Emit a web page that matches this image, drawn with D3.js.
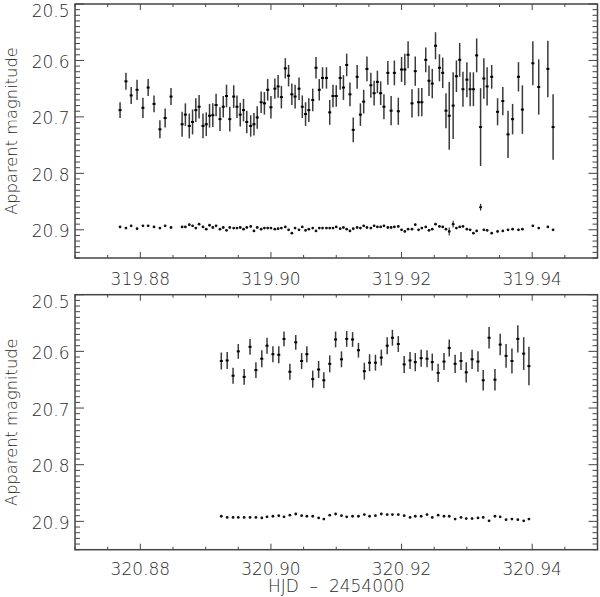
<!DOCTYPE html>
<html>
<head>
<meta charset="utf-8">
<script src="https://cdn.jsdelivr.net/npm/d3@7"></script>
<style>
  html, body { margin: 0; padding: 0; background: #fff; }
  svg { display: block; }
  text { font-family: "DejaVu Sans", sans-serif; font-size: 17px; font-weight: 200; fill: #2a2a2a; }
</style>
</head>
<body>
<svg id="chart" width="600" height="597"></svg>
<script>
// ---------- DATA ----------
const topTime = [
  319.8769, 319.8778, 319.8786, 319.8795, 319.8804, 319.8812, 319.8821, 319.8830, 319.8838, 319.8847,
  319.8864, 319.8869, 319.8875, 319.8880, 319.8885, 319.8890, 319.8896, 319.8901, 319.8906, 319.8911,
  319.8916, 319.8922, 319.8927, 319.8932, 319.8937, 319.8943, 319.8948, 319.8953, 319.8958, 319.8963,
  319.8969, 319.8974, 319.8979, 319.8985, 319.8990, 319.8995, 319.9000, 319.9006, 319.9011, 319.9016,
  319.9022, 319.9027, 319.9032, 319.9037, 319.9043, 319.9048, 319.9053, 319.9058, 319.9064, 319.9069,
  319.9074, 319.9079, 319.9085, 319.9090, 319.9095, 319.9100, 319.9106, 319.9111, 319.9116, 319.9121,
  319.9126, 319.9132, 319.9137, 319.9142, 319.9147, 319.9153, 319.9158, 319.9163, 319.9168, 319.9173,
  319.9179, 319.9184, 319.9189, 319.9195, 319.9200, 319.9205, 319.9210, 319.9216, 319.9221, 319.9226,
  319.9231, 319.9237, 319.9242, 319.9247, 319.9252, 319.9258, 319.9263, 319.9268, 319.9273, 319.9279,
  319.9284, 319.9289, 319.9294, 319.9300, 319.9305, 319.9310, 319.9315, 319.9321, 319.9326, 319.9331,
  319.9338, 319.9347, 319.9355, 319.9363, 319.9370, 319.9379, 319.9385, 319.9401, 319.9410, 319.9424,
  319.9432
];
const topMag = [
  20.688, 20.637, 20.662, 20.652, 20.684, 20.648, 20.677, 20.722, 20.702, 20.664,
  20.713, 20.696, 20.716, 20.709, 20.688, 20.682, 20.716, 20.713, 20.698, 20.697,
  20.679, 20.704, 20.682, 20.663, 20.704, 20.664, 20.682, 20.696, 20.688, 20.709,
  20.716, 20.713, 20.701, 20.674, 20.676, 20.652, 20.683, 20.650, 20.646, 20.665,
  20.614, 20.627, 20.660, 20.664, 20.650, 20.682, 20.695, 20.688, 20.670, 20.613,
  20.652, 20.631, 20.631, 20.692, 20.663, 20.663, 20.631, 20.648, 20.608, 20.660,
  20.723, 20.629, 20.696, 20.673, 20.615, 20.644, 20.658, 20.638, 20.658, 20.682,
  20.622, 20.689, 20.622, 20.690, 20.616, 20.616, 20.590, 20.676, 20.619, 20.674,
  20.674, 20.599, 20.636, 20.641, 20.574, 20.613, 20.622, 20.689, 20.698, 20.680,
  20.628, 20.599, 20.651, 20.634, 20.651, 20.651, 20.591, 20.718, 20.632, 20.646,
  20.629, 20.691, 20.672, 20.731, 20.704, 20.629, 20.687, 20.605, 20.647, 20.615,
  20.718
];
const topErr = [
  0.014, 0.015, 0.015, 0.018, 0.018, 0.015, 0.015, 0.016, 0.017, 0.015,
  0.022, 0.020, 0.022, 0.022, 0.021, 0.021, 0.022, 0.021, 0.021, 0.021,
  0.020, 0.021, 0.019, 0.020, 0.022, 0.020, 0.020, 0.021, 0.020, 0.020,
  0.019, 0.020, 0.020, 0.019, 0.020, 0.019, 0.020, 0.018, 0.020, 0.020,
  0.018, 0.019, 0.019, 0.021, 0.020, 0.020, 0.021, 0.021, 0.020, 0.019,
  0.019, 0.019, 0.019, 0.022, 0.020, 0.019, 0.021, 0.022, 0.020, 0.021,
  0.022, 0.021, 0.020, 0.021, 0.022, 0.022, 0.022, 0.020, 0.021, 0.022,
  0.021, 0.026, 0.022, 0.024, 0.022, 0.028, 0.024, 0.025, 0.026, 0.025,
  0.025, 0.022, 0.027, 0.026, 0.024, 0.024, 0.027, 0.031, 0.060, 0.059,
  0.028, 0.030, 0.031, 0.031, 0.030, 0.030, 0.030, 0.069, 0.036, 0.034,
  0.021, 0.024, 0.025, 0.042, 0.027, 0.026, 0.043, 0.039, 0.049, 0.050,
  0.058
];
const topCompMag = [
  20.895, 20.897, 20.893, 20.898, 20.893, 20.893, 20.895, 20.897, 20.893, 20.896,
  20.895, 20.895, 20.891, 20.893, 20.897, 20.890, 20.895, 20.899, 20.892, 20.896,
  20.893, 20.899, 20.896, 20.901, 20.896, 20.897, 20.897, 20.896, 20.899, 20.896,
  20.894, 20.902, 20.896, 20.899, 20.897, 20.897, 20.897, 20.899, 20.898, 20.897,
  20.895, 20.900, 20.906, 20.897, 20.900, 20.895, 20.901, 20.899, 20.897, 20.902,
  20.897, 20.897, 20.897, 20.897, 20.897, 20.895, 20.898, 20.896, 20.899, 20.902,
  20.898, 20.896, 20.897, 20.893, 20.896, 20.897, 20.893, 20.895, 20.895, 20.893,
  20.896, 20.896, 20.895, 20.894, 20.900, 20.903, 20.899, 20.899, 20.891, 20.900,
  20.897, 20.895, 20.901, 20.899, 20.890, 20.894, 20.895, 20.899, 20.903, 20.890,
  20.897, 20.895, 20.894, 20.899, 20.900, 20.906, 20.902, 20.860, 20.900, 20.901,
  20.906, 20.903, 20.902, 20.900, 20.899, 20.900, 20.899, 20.893, 20.897, 20.895,
  20.900
];
const topCompErr = topCompMag.map((m, i) => ({88: 0.007, 89: 0.006, 97: 0.006}[i] || 0.0015));

const botTime = [
  320.8924, 320.8933, 320.8942, 320.8950, 320.8959, 320.8968, 320.8977, 320.8986, 320.8994, 320.9003,
  320.9012, 320.9020, 320.9029, 320.9038, 320.9047, 320.9055, 320.9064, 320.9073, 320.9081, 320.9090,
  320.9099, 320.9108, 320.9116, 320.9125, 320.9134, 320.9143, 320.9151, 320.9160, 320.9169, 320.9178,
  320.9186, 320.9195, 320.9204, 320.9213, 320.9221, 320.9230, 320.9239, 320.9247, 320.9256, 320.9265,
  320.9273, 320.9282, 320.9291, 320.9299, 320.9308, 320.9317, 320.9325, 320.9334, 320.9343, 320.9351,
  320.9360, 320.9369, 320.9378, 320.9387, 320.9395
];
const botMag = [
  20.617, 20.616, 20.643, 20.600, 20.645, 20.592, 20.633, 20.613, 20.590, 20.605,
  20.606, 20.578, 20.636, 20.584, 20.617, 20.605, 20.649, 20.632, 20.651, 20.622,
  20.579, 20.614, 20.578, 20.579, 20.598, 20.635, 20.620, 20.620, 20.611, 20.590,
  20.576, 20.587, 20.623, 20.616, 20.619, 20.612, 20.613, 20.619, 20.638, 20.618,
  20.594, 20.622, 20.617, 20.637, 20.614, 20.618, 20.651, 20.576, 20.650, 20.588,
  20.608, 20.617, 20.578, 20.604, 20.626
];
const botErr = [
  0.015, 0.015, 0.014, 0.013, 0.014, 0.014, 0.014, 0.015, 0.014, 0.014,
  0.015, 0.013, 0.014, 0.013, 0.014, 0.014, 0.015, 0.015, 0.014, 0.015,
  0.014, 0.014, 0.014, 0.013, 0.013, 0.015, 0.015, 0.014, 0.014, 0.015,
  0.014, 0.014, 0.015, 0.015, 0.016, 0.015, 0.015, 0.015, 0.016, 0.015,
  0.015, 0.016, 0.016, 0.018, 0.017, 0.018, 0.018, 0.019, 0.019, 0.019,
  0.021, 0.022, 0.024, 0.029, 0.034
];
const botCompMag = [
  20.891, 20.893, 20.893, 20.893, 20.893, 20.893, 20.893, 20.894, 20.892, 20.891,
  20.890, 20.892, 20.889, 20.887, 20.890, 20.891, 20.891, 20.894, 20.896, 20.889,
  20.887, 20.890, 20.892, 20.891, 20.891, 20.888, 20.891, 20.890, 20.887, 20.888,
  20.888, 20.888, 20.890, 20.893, 20.891, 20.891, 20.888, 20.893, 20.889, 20.891,
  20.891, 20.896, 20.893, 20.895, 20.895, 20.894, 20.893, 20.899, 20.891, 20.892,
  20.897, 20.896, 20.897, 20.899, 20.896
];
const botCompErr = botCompMag.map(() => 0.0012);

const yTickLabels = ["20.5", "20.6", "20.7", "20.8", "20.9"];
const topXTickLabels = ["319.88", "319.90", "319.92", "319.94"];
const botXTickLabels = ["320.88", "320.90", "320.92", "320.94"];
const magDomain = [20.5, 20.95];
const yTitle = "Apparent magnitude";
const xTitle = "HJD  \u2013  2454000";

// ---------- DRAW ----------
const svg = d3.select("#chart");
const left = 75, right = 597.5;
const axisColor = "#444";

function panel(top, bottom, xDomain, xLabels, labelGap, time, mag, err, compMag, compErr, showXTitle) {
  const g = svg.append("g");
  const x = d3.scaleLinear().domain(xDomain).range([left, right]);
  const y = d3.scaleLinear().domain(magDomain).range([top, bottom]);

  const xMajor = xLabels.map(Number);
  const xMinor = d3.range(0, 17).map(i => +(xDomain[0] + i * 0.005).toFixed(4))
    .filter(v => !xMajor.some(m => Math.abs(m - v) < 1e-6));
  const yMajor = yTickLabels.map(Number);
  const yMinor = d3.range(0, 46).map(i => +(magDomain[0] + i * 0.01).toFixed(3))
    .filter(v => !yMajor.some(m => Math.abs(m - v) < 1e-6));

  const xt = g.append("g").attr("stroke", axisColor).attr("stroke-width", 1);
  [[xMajor, 6], [xMinor, 3]].forEach(([vals, len]) => {
    vals.forEach(v => {
      xt.append("line").attr("x1", x(v)).attr("x2", x(v)).attr("y1", bottom).attr("y2", bottom - len);
      xt.append("line").attr("x1", x(v)).attr("x2", x(v)).attr("y1", top).attr("y2", top + len);
    });
  });
  const yt = g.append("g").attr("stroke", axisColor).attr("stroke-width", 1);
  [[yMajor, 9], [yMinor, 5]].forEach(([vals, len]) => {
    vals.forEach(v => {
      yt.append("line").attr("y1", y(v)).attr("y2", y(v)).attr("x1", left).attr("x2", left + len);
      yt.append("line").attr("y1", y(v)).attr("y2", y(v)).attr("x1", right).attr("x2", right - len);
    });
  });

  g.append("rect").attr("x", left).attr("y", top).attr("width", right - left).attr("height", bottom - top)
    .attr("fill", "none").attr("stroke", axisColor).attr("stroke-width", 1.5);

  xLabels.forEach(l => {
    g.append("text").attr("x", x(+l)).attr("y", bottom + labelGap).attr("text-anchor", "middle").text(l);
  });
  yTickLabels.forEach(l => {
    const yy = Math.max(y(+l) + 7.5, top + 12.8);
    g.append("text").attr("x", 69.5).attr("y", yy).attr("text-anchor", "end").text(l);
  });

  g.append("text").attr("transform", `translate(17,${(top + bottom) / 2}) rotate(-90)`)
    .attr("text-anchor", "middle").style("font-size", "16.3px").text(yTitle);

  if (showXTitle) {
    g.append("text").attr("x", (left + right) / 2).attr("y", 592).attr("text-anchor", "middle")
      .style("white-space", "pre").text(xTitle);
  }

  const pts = time.map((t, i) => ({t, m: mag[i], e: err[i]}));
  const cpts = time.map((t, i) => ({t, m: compMag[i], e: compErr[i]}));
  const dg = g.append("g");
  dg.selectAll("line.eb").data(pts).join("line").attr("class", "eb")
    .attr("x1", d => x(d.t)).attr("x2", d => x(d.t))
    .attr("y1", d => y(d.m - d.e)).attr("y2", d => y(d.m + d.e))
    .attr("stroke", "#3a3a3a").attr("stroke-width", 1.5);
  dg.selectAll("rect.pt").data(pts).join("rect").attr("class", "pt")
    .attr("x", d => x(d.t) - 1.5).attr("y", d => y(d.m) - 1).attr("width", 3).attr("height", 2)
    .attr("fill", "#000");
  dg.selectAll("line.ceb").data(cpts).join("line").attr("class", "ceb")
    .attr("x1", d => x(d.t)).attr("x2", d => x(d.t))
    .attr("y1", d => y(d.m - d.e)).attr("y2", d => y(d.m + d.e))
    .attr("stroke", "#3a3a3a").attr("stroke-width", 1.2);
  dg.selectAll("circle.cp").data(cpts).join("circle").attr("class", "cp")
    .attr("cx", d => x(d.t)).attr("cy", d => y(d.m)).attr("r", 1.4).attr("fill", "#111");
}

panel(4, 258, [319.87, 319.95], topXTickLabels, 27, topTime, topMag, topErr, topCompMag, topCompErr, false);
panel(294.7, 549.7, [320.87, 320.95], botXTickLabels, 25.3, botTime, botMag, botErr, botCompMag, botCompErr, true);
</script>
</body>
</html>
